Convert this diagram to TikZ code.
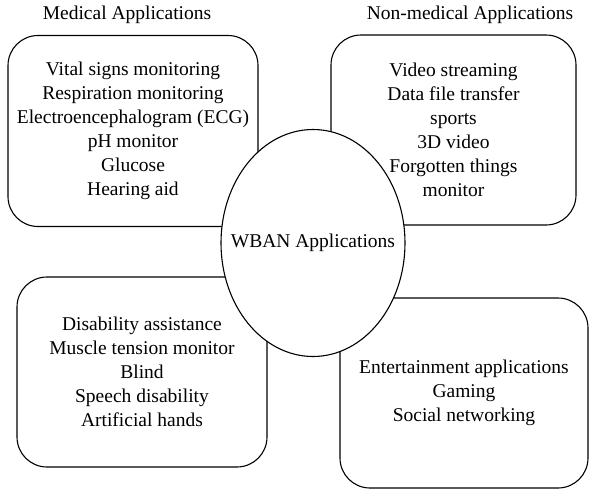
\documentclass[tikz,border=0pt]{standalone}
\usepackage{fontspec}
\setmainfont{Liberation Serif}
\usetikzlibrary{shapes.geometric}

\begin{document}
\begin{tikzpicture}[x=1pt,y=-1pt,line width=1.1pt,
  every node/.style={align=center,inner sep=0pt,font=\fontsize{19.5}{24}\selectfont},
  appbox/.style={draw,rectangle,rounded corners=30pt,minimum width=250pt,minimum height=191pt},
  hub/.style={draw,ellipse,fill=white,minimum width=184pt,minimum height=227pt}]
  \useasboundingbox (0,0) rectangle (598,499);
  \path (127,15) node (medtitle) {Medical Applications}
  (470,15) node (nonmedtitle) {Non-medical Applications};
  \path (133,131) node[appbox] (med) {Vital signs monitoring\\Respiration monitoring\\Electroencephalogram (ECG)\\pH monitor\\Glucose\\Hearing aid}
  (453.5,130) node[appbox,minimum width=245pt,minimum height=190pt] (nonmed) {Video streaming\\Data file transfer\\sports\\3D video\\Forgotten things\\monitor}
  (142,372) node[appbox,minimum height=190pt] (disab) {Disability assistance\\Muscle tension monitor\\Blind\\Speech disability\\Artificial hands}
  (464,393) node[appbox,minimum width=248pt,minimum height=190pt] (enter) {Entertainment applications\\Gaming\\Social networking};
  \node[hub] (wban) at (313,243) {};
  \node (wbantext) at (wban.center) {WBAN Applications};
\end{tikzpicture}
\end{document}
